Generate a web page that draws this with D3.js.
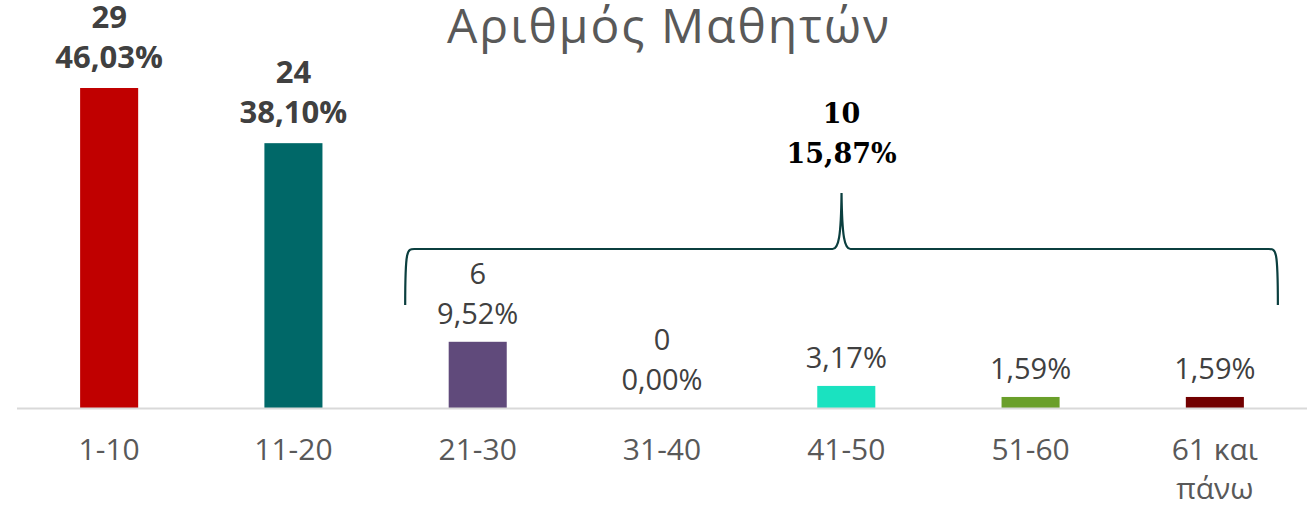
<!DOCTYPE html>
<html>
<head>
<meta charset="utf-8">
<script src="https://cdn.jsdelivr.net/npm/d3@7"></script>
<style>
  html, body { margin: 0; padding: 0; background: #fff; }
  svg { display: block; }
</style>
</head>
<body>
<svg id="chart" width="1312" height="507"></svg>
<script>
const title = "Αριθμός Μαθητών";
const categories = ["1-10", "11-20", "21-30", "31-40", "41-50", "51-60", "61 και πάνω"];
const counts = [29, 24, 6, 0, 2, 1, 1];
const countLabels = ["29", "24", "6", "0", "", "", ""];
const percentLabels = ["46,03%", "38,10%", "9,52%", "0,00%", "3,17%", "1,59%", "1,59%"];
const boldLabel = [true, true, false, false, false, false, false];
const colors = ["#C00000", "#006868", "#604A7B", "#1AE2C0", "#1AE2C0", "#6A9F2A", "#720000"];
const groupCategories = ["21-30", "61 και πάνω"];
const groupCount = "10";
const groupPercent = "15,87%";

const svg = d3.select("#chart");
const baseline = 408;

const x = d3.scaleBand()
  .domain(categories)
  .range([17, 1307])
  .paddingInner(0.685)
  .paddingOuter(0.3425);

const y = d3.scaleLinear()
  .domain([0, 29])
  .range([baseline, 88]);

// title
const titleSpacing = 2;
svg.append("text")
  .attr("x", 668 + titleSpacing / 2).attr("y", 43)
  .attr("text-anchor", "middle")
  .attr("font-family", "'Open Sans', sans-serif")
  .attr("font-size", 48)
  .attr("font-weight", 400)
  .attr("letter-spacing", titleSpacing)
  .attr("fill", "#595959")
  .text(title);

// bars
svg.selectAll("rect.bar")
  .data(categories)
  .join("rect")
  .attr("class", "bar")
  .attr("x", d => x(d))
  .attr("width", x.bandwidth())
  .attr("y", (d, i) => y(counts[i]))
  .attr("height", (d, i) => baseline - y(counts[i]))
  .attr("fill", (d, i) => i === 3 ? "none" : colors[i]);

// axis line
svg.append("line")
  .attr("x1", 17).attr("x2", 1307)
  .attr("y1", baseline + 0.5).attr("y2", baseline + 0.5)
  .attr("stroke", "#d9d9d9").attr("stroke-width", 2);

// category labels
const catG = svg.selectAll("text.cat")
  .data(categories)
  .join("text")
  .attr("class", "cat")
  .attr("x", d => x(d) + x.bandwidth() / 2)
  .attr("y", 460)
  .attr("text-anchor", "middle")
  .attr("font-family", "'Open Sans', sans-serif")
  .attr("font-size", 30)
  .attr("fill", "#595959");
catG.each(function(d) {
  const t = d3.select(this);
  if (d === "61 και πάνω") {
    t.append("tspan").attr("x", x(d) + x.bandwidth() / 2).attr("dy", 0).text("61 και");
    t.append("tspan").attr("x", x(d) + x.bandwidth() / 2).attr("dy", 39).text("πάνω");
  } else {
    t.text(d);
  }
});

// data labels
categories.forEach((c, i) => {
  const cx = x(c) + x.bandwidth() / 2;
  const top = y(counts[i]);
  const bold = boldLabel[i];
  const gap = bold ? 20 : 18;
  const g = svg.append("text")
    .attr("text-anchor", "middle")
    .attr("font-family", "'Open Sans', sans-serif")
    .attr("font-size", bold ? 31 : 29)
    .attr("font-weight", bold ? 700 : 400)
    .attr("fill", "#404040");
  if (countLabels[i] !== "") {
    g.append("tspan").attr("x", cx).attr("y", top - gap - 40).text(countLabels[i]);
  }
  g.append("tspan").attr("x", cx).attr("y", top - gap).text(percentLabels[i]);
});

// brace
const bx0 = x(groupCategories[0]) - 43.5;
const bx1 = x(groupCategories[1]) + x.bandwidth() + 34;
const bmid = (bx0 + bx1) / 2;
const by = 249, btip = 305, bpeak = 193;
const bracePath = d3.path();
bracePath.moveTo(bx0, btip);
bracePath.bezierCurveTo(bx0, by - 2, bx0 + 2, by, bx0 + 10, by);
bracePath.lineTo(bmid - 9, by);
bracePath.bezierCurveTo(bmid - 3, by, bmid - 0.5, by - 12, bmid, bpeak);
bracePath.bezierCurveTo(bmid + 0.5, by - 12, bmid + 3, by, bmid + 9, by);
bracePath.lineTo(bx1 - 10, by);
bracePath.bezierCurveTo(bx1 - 2, by, bx1, by - 2, bx1, btip);
svg.append("path")
  .attr("d", bracePath.toString())
  .attr("fill", "none")
  .attr("stroke", "#0b3f3f")
  .attr("stroke-width", 2.2);

// group label
const gl = svg.append("text")
  .attr("text-anchor", "middle")
  .attr("font-family", "'DejaVu Serif', serif")
  .attr("font-weight", 700)
  .attr("font-size", 27)
  .attr("fill", "#000");
gl.append("tspan").attr("x", bmid).attr("y", 123).text(groupCount);
gl.append("tspan").attr("x", bmid).attr("y", 163).text(groupPercent);
</script>
</body>
</html>
